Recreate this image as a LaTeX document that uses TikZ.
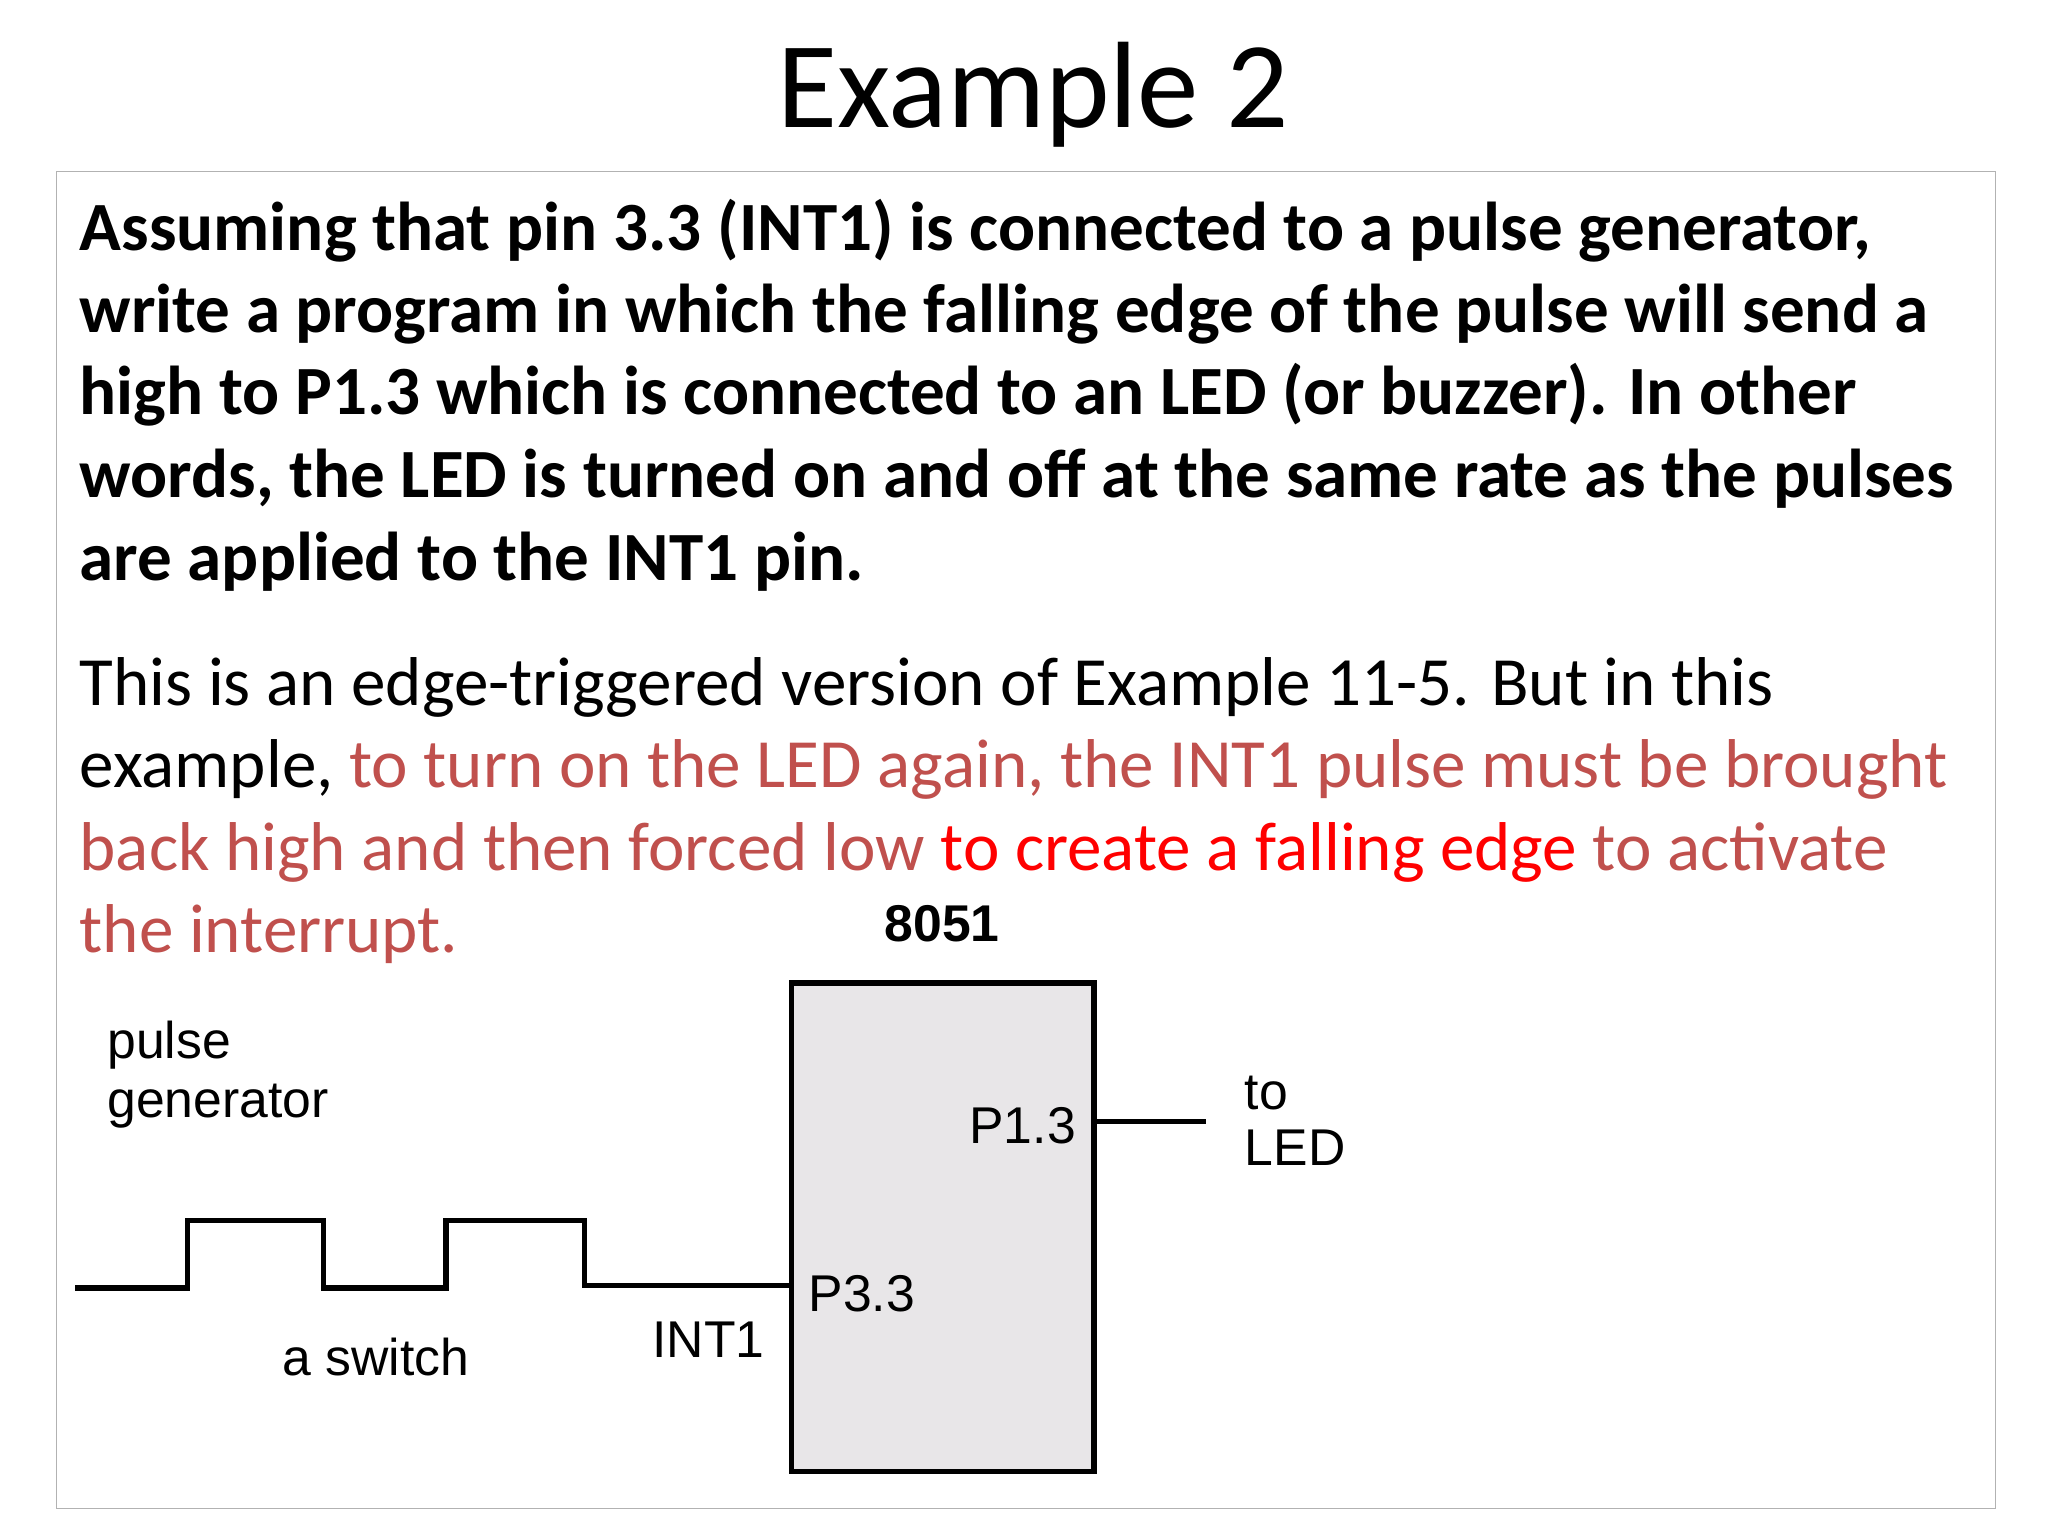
\documentclass[tikz,border=0pt]{standalone}
\usepackage{fontspec}
\setmainfont{Carlito}
\newfontfamily\arial{Liberation Sans}
\definecolor{dred}{RGB}{192,80,77}
\definecolor{boxfill}{RGB}{232,230,232}
\begin{document}
\begin{tikzpicture}[x=0.02cm,y=-0.02cm,
  bodyb/.style={anchor=base west,inner sep=0,font=\fontsize{29.8}{35}\selectfont\bfseries},
  bodyr/.style={anchor=base west,inner sep=0,font=\fontsize{29.8}{35}\selectfont},
  lab/.style={inner sep=0,font=\arial\fontsize{22.3}{27}\selectfont},
  wire/.style={line width=2.3pt}]
\useasboundingbox (0,0) rectangle (1552,1164);
\fill[white] (0,0) rectangle (1552,1164);
\draw[gray!60,line width=0.6pt] (43,130) rectangle (1512,1143);
\node[inner sep=0,font=\fontsize{53}{64}\selectfont] (title) at (783,72) {Example 2};
\node[bodyb] (l1) at (60,190) {Assuming that pin 3.3 (INT1) is connected to a pulse generator,};
\node[bodyb] (l2) at (60,252) {write a program in which the falling edge of the pulse will send a};
\node[bodyb] (l3) at (60,314) {high to P1.3 which is connected to an LED (or buzzer). In other};
\node[bodyb] (l4) at (60,377) {words, the LED is turned on and off at the same rate as the pulses};
\node[bodyb] (l5) at (60,440) {are applied to the INT1 pin.};
\node[bodyr] (m1) at (60,535) {This is an edge-triggered version of Example 11-5. But in this};
\node[bodyr] (m2) at (60,597) {example, \textcolor{dred}{to turn on the LED again, the INT1 pulse must be brought}};
\node[bodyr] (m3) at (60,660) {\textcolor{dred}{back high and then forced low} \textcolor{red}{to create a falling edge} \textcolor{dred}{to activate}};
\node[bodyr] (m4) at (60,722) {\textcolor{dred}{the interrupt.}};
% diagram
\node[lab,font=\arial\bfseries\fontsize{22.3}{27}\selectfont] (chipname) at (714,700) {8051};
\draw[wire,fill=boxfill] (600,745) rectangle (829,1115);
\coordinate (pa) at (829,850);
\coordinate (pb) at (914,850);
\draw[wire] (pa) -- (pb);
\node[lab] (p13) at (775,853) {P1.3};
\node[lab] (p33) at (653,980) {P3.3};
\node[lab,anchor=west] (to) at (943,828) {to};
\node[lab,anchor=west] (led) at (943,870) {LED};
\node[lab] (int1) at (537,1015) {INT1};
\node[lab] (sw) at (285,1028) {a switch};
\node[lab,anchor=west] (pg1) at (81,792) {pulse};
\node[lab,anchor=west] (pg2) at (81,838) {generator};
\coordinate (w0) at (57,976);
\coordinate (w9) at (600,974);
\draw[wire,line join=miter] (w0) -- (142,976) -- (142,925) -- (245,925) -- (245,976) -- (338,976) -- (338,925) -- (443,925) -- (443,974) -- (w9);
\end{tikzpicture}
\end{document}
